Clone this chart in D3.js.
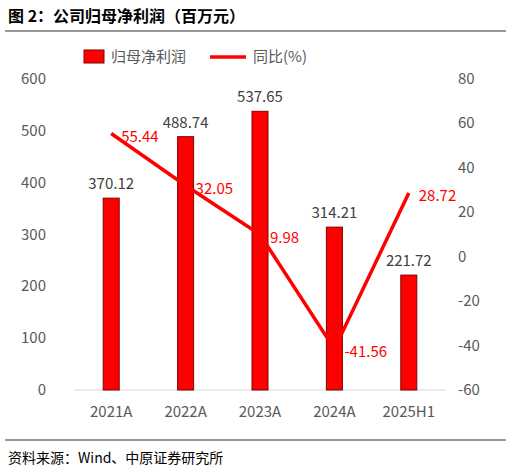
<!DOCTYPE html><html><head><meta charset="utf-8"><script src="https://cdn.jsdelivr.net/npm/d3@7"></script>
<style>body{margin:0;background:#fff}text{font-family:"Noto Sans CJK SC","Noto Sans",sans-serif}</style></head><body>
<svg id="c" width="511" height="472"></svg>
<script>
const categories=["2021A","2022A","2023A","2024A","2025H1"];
const profit=[370.12,488.74,537.65,314.21,221.72];
const yoy=[55.44,32.05,9.98,-41.56,28.72];
const leftTicks=[0,100,200,300,400,500,600];
const rightTicks=[-60,-40,-20,0,20,40,60,80];
(function(){
const svg=d3.select("#c");
const yTop=79,bot=390;
const x=d3.scaleBand().domain(categories).range([74,446]);
const yL=d3.scaleLinear().domain([0,600]).range([bot,yTop]);
const yR=d3.scaleLinear().domain([-60,80]).range([bot,yTop]);
svg.append("text").attr("x",8).attr("y",22).attr("font-size",16).attr("font-weight","bold").text("图 2：公司归母净利润（百万元）");
svg.append("line").attr("x1",5).attr("x2",506).attr("y1",31).attr("y2",31).attr("stroke","#333").attr("stroke-width",1);
svg.append("line").attr("x1",5).attr("x2",506).attr("y1",440).attr("y2",440).attr("stroke","#333").attr("stroke-width",1);
svg.append("text").attr("x",8).attr("y",463).attr("font-size",14).text("资料来源：Wind、中原证券研究所");
const ga=svg.append("g").attr("font-size",15);
leftTicks.forEach(t=>ga.append("text").attr("x",46).attr("y",yL(t)+5).attr("text-anchor","end").attr("fill","#595959").text(t));
rightTicks.forEach(t=>ga.append("text").attr("x",458).attr("y",yR(t)+5).attr("fill","#595959").text(t));
categories.forEach(c=>ga.append("text").attr("x",x(c)+x.bandwidth()/2).attr("y",417).attr("text-anchor","middle").attr("fill","#595959").text(c));
svg.append("line").attr("x1",74).attr("x2",446).attr("y1",bot).attr("y2",bot).attr("stroke","#d9d9d9");
const bw=16;
categories.forEach((c,i)=>{
 const cx=x(c)+x.bandwidth()/2;
 svg.append("rect").attr("x",cx-bw/2).attr("y",yL(profit[i])).attr("width",bw).attr("height",bot-yL(profit[i])).attr("fill","#FF0000").attr("stroke","#7F0000").attr("stroke-width",1);
 svg.append("text").attr("x",cx).attr("y",yL(profit[i])-9).attr("text-anchor","middle").attr("font-size",15).attr("fill","#404040").text(profit[i].toFixed(2));
});
const line=d3.line().x((d,i)=>x(categories[i])+x.bandwidth()/2).y(d=>yR(d));
svg.append("path").attr("d",line(yoy)).attr("fill","none").attr("stroke","#FF0000").attr("stroke-width",3.5);
yoy.forEach((v,i)=>{
 const cx=x(categories[i])+x.bandwidth()/2;
 svg.append("text").attr("x",cx+10).attr("y",yR(v)+8).attr("font-size",15).attr("fill","#FF0000").text(v.toFixed(2));
});
svg.append("rect").attr("x",84).attr("y",50).attr("width",20).attr("height",13).attr("fill","#FF0000").attr("stroke","#7F0000");
svg.append("text").attr("x",111).attr("y",62).attr("font-size",15).attr("fill","#595959").text("归母净利润");
svg.append("line").attr("x1",210).attr("x2",246).attr("y1",57).attr("y2",57).attr("stroke","#FF0000").attr("stroke-width",3.5);
svg.append("text").attr("x",253).attr("y",62).attr("font-size",15).attr("fill","#595959").text("同比(%)");
})();
</script></body></html>
